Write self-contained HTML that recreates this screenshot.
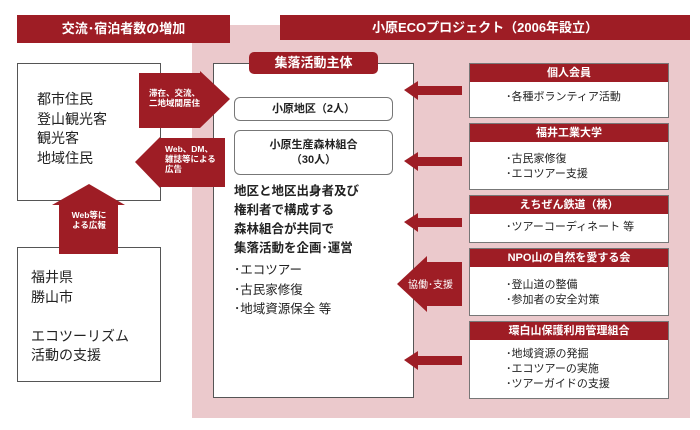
<!DOCTYPE html>
<html><head><meta charset="utf-8"><style>
body{margin:0;width:700px;height:430px;background:#fff;position:relative;overflow:hidden;font-family:"Liberation Sans","Noto Sans CJK JP",sans-serif;color:#222}
div{position:absolute;box-sizing:border-box}
.hd{background:#9e1d25;color:#fff;font-weight:bold;text-align:center}
.box{background:#fff;border:1px solid #555}
.rb{left:469px;width:200px;background:#fff;border:1px solid #777}
.rb .h{position:static;background:#9e1d25;color:#fff;font-weight:bold;font-size:11px;text-align:center;height:18px;line-height:18px}
.rb .b{position:static;font-size:11px;line-height:15px;padding:6px 0 0 36px}
svg{position:absolute;left:0;top:0}
</style></head><body>
<div style="left:192px;top:25px;width:498px;height:393px;background:#ebc9cc"></div>
<div class="hd" style="left:17px;top:15px;width:213px;height:28px;line-height:28px;font-size:13px">交流･宿泊者数の増加</div>
<div class="hd" style="left:280px;top:15px;width:410px;height:25px;line-height:25px;font-size:13px">小原ECOプロジェクト（2006年設立）</div>
<div class="box" style="left:17px;top:63px;width:144px;height:138px;padding:26px 0 0 19px;font-size:14px;line-height:19.5px">都市住民<br>登山観光客<br>観光客<br>地域住民</div>
<div class="box" style="left:17px;top:247px;width:144px;height:135px;padding:20px 0 0 13px;font-size:14px;line-height:19.5px">福井県<br>勝山市<br><br>エコツーリズム<br>活動の支援</div>
<div class="box" style="left:213px;top:63px;width:201px;height:335px"></div>
<div class="hd" style="left:249px;top:52px;width:129px;height:22px;line-height:22px;font-size:13px;border-radius:5px">集落活動主体</div>
<div class="box" style="left:234px;top:97px;width:159px;height:24px;border-radius:6px;border-color:#777;text-align:center;line-height:22px;font-size:11px;font-weight:bold">小原地区（2人）</div>
<div class="box" style="left:234px;top:130px;width:159px;height:45px;border-radius:6px;border-color:#777;text-align:center;padding-top:7px;line-height:15px;font-size:11px;font-weight:bold">小原生産森林組合<br>（30人）</div>
<div style="left:234px;top:182px;font-size:12.5px;font-weight:bold;line-height:19px;white-space:nowrap">地区と地区出身者及び<br>権利者で構成する<br>森林組合が共同で<br>集落活動を企画･運営</div>
<div style="left:234px;top:261px;font-size:12.5px;line-height:19.7px;white-space:nowrap">･エコツアー<br>･古民家修復<br>･地域資源保全 等</div>
<svg width="700" height="430" viewBox="0 0 700 430">
<g fill="#9e1d25">
<polygon points="139,73 200,73 200,71 230,99 200,128 139,128"/>
<polygon points="135,162 160,137 160,138 225,138 225,187 160,187 160,188"/>
<polygon points="59,254 59,205 52,205 89,184 125,205 118,205 118,254"/>
<polygon points="404,90 418,81 418,86 462,86 462,95 418,95 418,100"/>
<polygon points="404,161 418,152 418,157 462,157 462,166 418,166 418,171"/>
<polygon points="404,222 418,213 418,218 462,218 462,227 418,227 418,232"/>
<polygon points="404,360 418,351 418,356 462,356 462,365 418,365 418,370"/>
<polygon points="397,284 427,256 427,262 462,262 462,306 427,306 427,312"/>
</g>
<g fill="#fff" font-weight="bold" font-size="8.5" font-family="Liberation Sans,Noto Sans CJK JP,sans-serif">
<text x="149" y="96">滞在、交流、</text><text x="149" y="106">二地域間居住</text>
<text x="165" y="152">Web、DM、</text><text x="165" y="162">雑誌等による</text><text x="165" y="172">広告</text>
<text x="89" y="218" text-anchor="middle">Web等に</text><text x="89" y="228" text-anchor="middle">よる広報</text>
<text x="408" y="288" font-weight="normal" font-size="10">協働･支援</text>
</g>
</svg>
<div class="rb" style="top:63px;height:55px"><div class="h">個人会員</div><div class="b" style="padding-top:8px">･各種ボランティア活動</div></div>
<div class="rb" style="top:123px;height:67px"><div class="h">福井工業大学</div><div class="b" style="padding-top:10px">･古民家修復<br>･エコツアー支援</div></div>
<div class="rb" style="top:195px;height:48px"><div class="h">えちぜん鉄道（株）</div><div class="b" style="padding-top:6px">･ツアーコーディネート 等</div></div>
<div class="rb" style="top:248px;height:68px"><div class="h">NPO山の自然を愛する会</div><div class="b" style="padding-top:11px">･登山道の整備<br>･参加者の安全対策</div></div>
<div class="rb" style="top:321px;height:78px"><div class="h">環白山保護利用管理組合</div><div class="b" style="padding-top:7px">･地域資源の発掘<br>･エコツアーの実施<br>･ツアーガイドの支援</div></div>
</body></html>
